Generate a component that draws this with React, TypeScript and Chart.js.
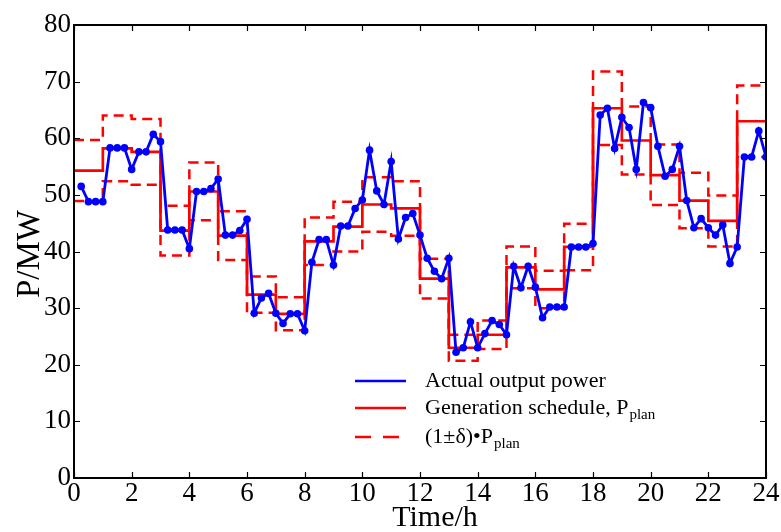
import React, { useEffect, useRef } from "react";
import { Chart, registerables } from "chart.js";

Chart.register(...registerables);

// ---- data ----
const HOURS = [0, 1, 2, 3, 4, 5, 6, 7, 8, 9, 10, 11, 12, 13, 14, 15, 16, 17, 18, 19, 20, 21, 22, 23, 24];
const PLAN = [54.3, 58.2, 57.6, 43.7, 50.6, 42.8, 32.4, 29.0, 41.8, 44.4, 48.3, 47.6, 35.2, 23.0, 25.3, 37.2, 33.3, 40.8, 65.3, 59.6, 53.5, 49.0, 45.4, 63.0];
const PLAN_UPPER = [59.7, 64.0, 63.4, 48.1, 55.7, 47.1, 35.6, 31.9, 46.0, 48.8, 53.1, 52.4, 38.7, 25.3, 27.8, 40.9, 36.6, 44.9, 71.8, 65.6, 58.9, 53.9, 49.9, 69.3];
const PLAN_LOWER = [48.9, 52.4, 51.8, 39.3, 45.5, 38.5, 29.2, 26.1, 37.6, 40.0, 43.5, 42.8, 31.7, 20.7, 22.8, 33.5, 30.0, 36.7, 58.8, 53.6, 48.2, 44.1, 40.9, 56.7];
const SAMPLE_STEP_H = 0.25;
const ACTUAL = [
  51.5, 48.8, 48.8, 48.8, 58.3, 58.3, 58.3, 54.5, 57.6, 57.6, 60.7, 59.4,
  43.8, 43.8, 43.8, 40.5, 50.6, 50.6, 51.1, 52.8, 42.9, 42.9, 43.7, 45.7,
  29.1, 31.8, 32.6, 29.1, 27.3, 29.0, 29.0, 26.0, 38.1, 42.1, 42.1, 37.6,
  44.5, 44.5, 47.6, 49.1, 57.9, 50.7, 48.3, 55.9, 42.2, 46.0, 46.7, 42.9,
  38.8, 36.5, 35.2, 38.8, 22.2, 23.0, 27.6, 23.0, 25.5, 27.8, 27.1, 25.3,
  37.4, 33.6, 37.4, 33.7, 28.3, 30.2, 30.2, 30.2, 40.8, 40.8, 40.8, 41.4,
  64.1, 65.3, 58.2, 63.7, 61.9, 54.5, 66.3, 65.4, 58.6, 53.3, 54.5, 58.6,
  49.0, 44.2, 45.8, 44.2, 42.9, 44.7, 37.9, 40.8, 56.7, 56.7, 61.3, 56.7,
];
const X_TICKS = [0, 2, 4, 6, 8, 10, 12, 14, 16, 18, 20, 22, 24];
const Y_TICKS = [0, 10, 20, 30, 40, 50, 60, 70, 80];

const FONT = "'Liberation Serif', 'Times New Roman', serif";

function stepPoints(vals: number[]) {
  return HOURS.map((h, i) => ({ x: h, y: vals[Math.min(i, vals.length - 1)] }));
}

const framePlugin = {
  id: "frameAndLegend",
  afterDraw(chart: any) {
    const { ctx, chartArea: a, scales } = chart;
    const xs = scales.x;
    const ys = scales.y;
    ctx.save();
    ctx.strokeStyle = "#000";
    ctx.lineWidth = 1.2;
    const tl = 6;
    X_TICKS.forEach((v) => {
      const px = Math.round(xs.getPixelForValue(v)) + 0.5;
      ctx.beginPath();
      ctx.moveTo(px, a.bottom);
      ctx.lineTo(px, a.bottom - tl);
      ctx.moveTo(px, a.top);
      ctx.lineTo(px, a.top + tl);
      ctx.stroke();
    });
    Y_TICKS.forEach((v) => {
      const py = Math.round(ys.getPixelForValue(v)) + 0.5;
      ctx.beginPath();
      ctx.moveTo(a.left, py);
      ctx.lineTo(a.left + tl, py);
      ctx.moveTo(a.right, py);
      ctx.lineTo(a.right - tl, py);
      ctx.stroke();
    });
    ctx.lineWidth = 2;
    ctx.strokeRect(a.left, a.top, a.right - a.left, a.bottom - a.top);

    // axis titles
    ctx.fillStyle = "#000";
    ctx.font = `30px ${FONT}`;
    ctx.textAlign = "center";
    ctx.textBaseline = "middle";
    ctx.fillText("Time/h", 435, 518);
    ctx.save();
    ctx.translate(30, 254);
    ctx.rotate(-Math.PI / 2);
    ctx.font = `33px ${FONT}`;
    ctx.fillText("P/MW", 0, 0);
    ctx.restore();

    // legend
    const lx0 = 355;
    const lx1 = 406;
    const tx = 425;
    const rows = [
      { y: 381, color: "#0000ff", dash: [] as number[], main: "Actual output power", sub: "" },
      { y: 408, color: "#ff0000", dash: [] as number[], main: "Generation schedule, P", sub: "plan" },
      { y: 437, color: "#ff0000", dash: [16, 12], main: "(1\u00b1\u03b4)\u2022P", sub: "plan" },
    ];
    rows.forEach((r) => {
      ctx.beginPath();
      ctx.strokeStyle = r.color;
      ctx.lineWidth = 2.5;
      ctx.setLineDash(r.dash);
      ctx.moveTo(lx0, r.y);
      ctx.lineTo(lx1, r.y);
      ctx.stroke();
      ctx.setLineDash([]);
      ctx.fillStyle = "#000";
      ctx.font = `22px ${FONT}`;
      ctx.textAlign = "left";
      ctx.textBaseline = "middle";
      ctx.fillText(r.main, tx, r.y);
      if (r.sub) {
        const w = ctx.measureText(r.main).width;
        ctx.font = `15px ${FONT}`;
        ctx.fillText(r.sub, tx + w + 1, r.y + 7);
      }
    });
    ctx.restore();
  },
};

export default function App() {
  const ref = useRef<HTMLCanvasElement | null>(null);
  useEffect(() => {
    if (!ref.current) return;
    const chart = new Chart(ref.current, {
      type: "line",
      data: {
        datasets: [
          {
            label: "Actual output power",
            data: ACTUAL.map((v, i) => ({ x: (i + 1) * SAMPLE_STEP_H, y: v })),
            borderColor: "#0000ff",
            backgroundColor: "#0000ff",
            borderWidth: 2.8,
            pointRadius: 3.8,
            pointBorderWidth: 0,
            pointBackgroundColor: "#0000ff",
            tension: 0,
          },
          {
            label: "Generation schedule",
            data: stepPoints(PLAN),
            borderColor: "#ff0000",
            borderWidth: 2.7,
            pointRadius: 0,
            stepped: "before",
          },
          {
            label: "upper",
            data: stepPoints(PLAN_UPPER),
            borderColor: "#ff0000",
            borderWidth: 2.5,
            borderDash: [10, 6],
            pointRadius: 0,
            stepped: "before",
          },
          {
            label: "lower",
            data: stepPoints(PLAN_LOWER),
            borderColor: "#ff0000",
            borderWidth: 2.5,
            borderDash: [10, 6],
            pointRadius: 0,
            stepped: "before",
          },
        ],
      },
      options: {
        animation: false,
        responsive: false,
        devicePixelRatio: 1,
        layout: { padding: { top: 25, right: 15, left: 0, bottom: 0 } },
        plugins: { legend: { display: false }, tooltip: { enabled: false } },
        scales: {
          x: {
            type: "linear",
            min: 0,
            max: 24,
            afterFit: (s: any) => {
              s.height = 54;
            },
            afterBuildTicks: (s: any) => {
              s.ticks = X_TICKS.map((v) => ({ value: v }));
            },
            grid: { display: false, drawTicks: false },
            border: { display: false },
            ticks: {
              color: "#000",
              font: { family: FONT, size: 27 },
              padding: 0,
              maxRotation: 0,
              autoSkip: false,
            },
          },
          y: {
            type: "linear",
            min: 0,
            max: 80,
            afterFit: (s: any) => {
              s.width = 74;
            },
            afterBuildTicks: (s: any) => {
              s.ticks = Y_TICKS.map((v) => ({ value: v }));
            },
            grid: { display: false, drawTicks: false },
            border: { display: false },
            ticks: {
              color: "#000",
              font: { family: FONT, size: 27 },
              padding: 3,
            },
          },
        },
      },
      plugins: [framePlugin],
    });
    return () => chart.destroy();
  }, []);
  return (
    <div style={{ position: "absolute", left: 0, top: 0, width: 781, height: 532, background: "#fff" }}>
      <canvas ref={ref} width={781} height={532} style={{ width: 781, height: 532 }} />
    </div>
  );
}
